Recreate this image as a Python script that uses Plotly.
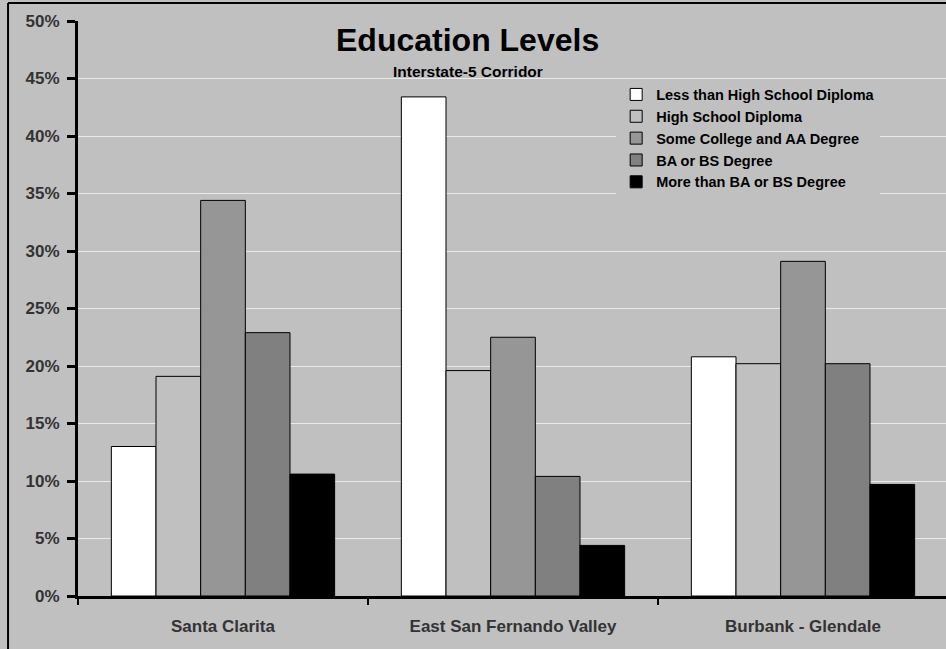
import plotly.graph_objects as go

# Share of adults by highest education level, per area along the I-5 corridor
regions = ["Santa Clarita", "East San Fernando Valley", "Burbank - Glendale"]
levels = [
    "Less than High School Diploma",
    "High School Diploma",
    "Some College and AA Degree",
    "BA or BS Degree",
    "More than BA or BS Degree",
]
less_than_hs = [13.0, 43.4, 20.8]
hs_diploma = [19.1, 19.6, 20.2]
some_college = [34.4, 22.5, 29.1]
ba_bs = [22.9, 10.4, 20.2]
more_than_ba = [10.6, 4.4, 9.7]
series = [less_than_hs, hs_diploma, some_college, ba_bs, more_than_ba]
fills = ["#FFFFFF", "#C0C0C0", "#969696", "#808080", "#000000"]

y_ticks = list(range(0, 51, 5))
y_tick_text = [f"{v}%" for v in y_ticks]

FONT = "Liberation Sans, Arial, sans-serif"
BG = "#C0C0C0"

fig = go.Figure()
for name, vals, col in zip(levels, series, fills):
    fig.add_trace(go.Bar(
        x=regions, y=vals, name=name,
        marker=dict(color=col, line=dict(color="#000000", width=1)),
    ))

fig.update_layout(
    width=946, height=649,
    margin=dict(l=78, r=0, t=21, b=53),
    paper_bgcolor=BG, plot_bgcolor=BG,
    barmode="group", bargap=0.23, bargroupgap=0,
    showlegend=True,
    legend=dict(
        x=0.62, y=0.90, xanchor="left", yanchor="top",
        bgcolor=BG, borderwidth=0,
        font=dict(family=FONT, size=14.5, color="#000000", weight="bold"),
        itemwidth=30, tracegroupgap=0,
    ),
    xaxis=dict(
        range=[-0.5, 2.5 - 2 / 290],
        tickson="boundaries", ticks="outside", ticklen=6, tickwidth=2,
        tickcolor="#000000",
        showline=True, linecolor="#000000", linewidth=3,
        showgrid=False, zeroline=False,
        tickfont=dict(family=FONT, size=17, color="#333333", weight="bold"),
        ticklabelstandoff=13,
    ),
    yaxis=dict(
        range=[0, 50], tickvals=y_ticks, ticktext=y_tick_text,
        ticks="outside", ticklen=8, tickwidth=3, tickcolor="#000000",
        showline=True, linecolor="#000000", linewidth=3,
        showgrid=True, gridcolor="#EAEAEA", gridwidth=1,
        zeroline=False,
        tickfont=dict(family=FONT, size=17, color="#333333", weight="bold"),
        ticklabelstandoff=4,
    ),
    annotations=[
        dict(text="Education Levels", xref="paper", yref="paper",
             x=0.449, y=0.967, xanchor="center", yanchor="middle",
             showarrow=False,
             font=dict(family=FONT, size=32, color="#000000", weight="bold")),
        dict(text="Interstate-5 Corridor", xref="paper", yref="paper",
             x=0.449, y=0.913, xanchor="center", yanchor="middle",
             showarrow=False,
             font=dict(family=FONT, size=15.5, color="#000000", weight="bold")),
    ],
    shapes=[
        # frame around the chart area (left and top edges)
        dict(type="line", xref="paper", yref="paper",
             x0=-0.0806, x1=-0.0806, y0=-0.2, y1=1.0313,
             line=dict(color="#000000", width=2)),
        dict(type="line", xref="paper", yref="paper",
             x0=-0.0806, x1=1.05, y0=1.0313, y1=1.0313,
             line=dict(color="#000000", width=2)),
    ],
)

fig.write_html("out.html")
